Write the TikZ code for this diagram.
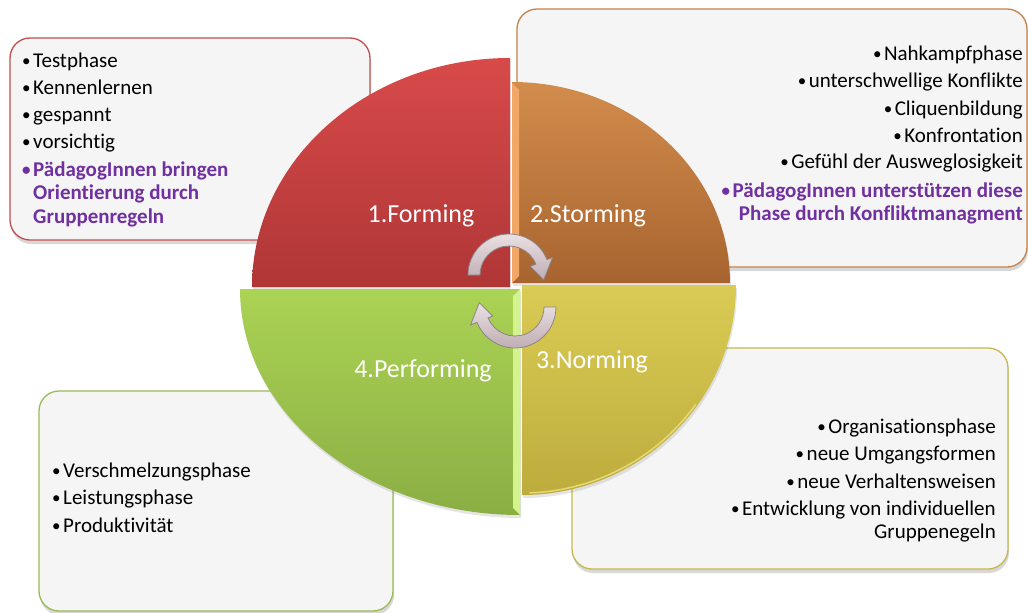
\documentclass[tikz,border=0pt]{standalone}
\usepackage{fontspec}
\setmainfont{Carlito}[Ligatures=NoCommon]
\usetikzlibrary{shadows}
\definecolor{boxfill}{HTML}{F5F5F5}
\definecolor{redb}{HTML}{C0504D}
\definecolor{orangeb}{HTML}{C3834B}
\definecolor{yellowb}{HTML}{C6B84C}
\definecolor{greenb}{HTML}{9BBB59}
\definecolor{purp}{HTML}{7030A0}
\definecolor{redt}{HTML}{D84A4A}
\definecolor{redd}{HTML}{B03636}
\definecolor{orat}{HTML}{D28C4C}
\definecolor{orad}{HTML}{A8642F}
\definecolor{yelt}{HTML}{DACB55}
\definecolor{yeld}{HTML}{BDAC3C}
\definecolor{grnt}{HTML}{ABD354}
\definecolor{grnd}{HTML}{8BAE44}
\definecolor{oralight}{HTML}{F3A766}
\definecolor{grnlight}{HTML}{D3F38C}
\definecolor{yellight}{HTML}{E6D975}
\definecolor{arrowtop}{HTML}{EAE0E3}
\definecolor{arrowbot}{HTML}{BFAEB4}
\definecolor{arrowdraw}{HTML}{8E8488}
\newcommand{\bl}{\makebox[11pt][l]{\raisebox{0.5pt}{\fontsize{17}{17}\selectfont •}}}
\begin{document}
\begin{tikzpicture}[x=1pt,y=-1pt,
  infobox/.style={draw, line width=1.3pt, fill=boxfill, rounded corners=20pt,
    drop shadow={opacity=0.3, shadow xshift=1pt, shadow yshift=-4pt}},
  quad/.style={drop shadow={opacity=0.2, shadow xshift=1pt, shadow yshift=-3pt}},
  itemL/.style={anchor=base west, inner sep=0pt, font=\fontsize{21}{24}\selectfont},
  itemR/.style={anchor=base east, inner sep=0pt, font=\fontsize{21}{24}\selectfont},
  accent/.style={text=purp, font=\fontsize{21}{24}\selectfont\bfseries},
  phase/.style={anchor=base, text=white, inner sep=0pt, font=\fontsize{26}{30}\selectfont},
  cyc/.style={top color=arrowtop, bottom color=arrowbot, draw=arrowdraw, line width=0.8pt}]
\useasboundingbox (0,0) rectangle (1028,613);
\fill[white] (0,0) rectangle (1028,613);

% info boxes
\draw[infobox, draw=redb]    (10,38)  rectangle (370,240);
\draw[infobox, draw=orangeb] (517,9)  rectangle (1027,267);
\draw[infobox, draw=yellowb] (572,348) rectangle (1008,569);
\draw[infobox, draw=greenb]  (39,391) rectangle (393,611);

% quadrants
\shade[quad, top color=redt, bottom color=redd]
  (510,287) -- ++(-258,0) arc[start angle=180, end angle=270, x radius=258, y radius=229] -- cycle;
\shade[quad, top color=orat, bottom color=orad]
  (512,283) -- ++(0,-201) arc[start angle=270, end angle=360, x radius=218, y radius=201] -- cycle;
\fill[oralight] (512,83) -- (519,90) -- (519,276) -- (512,283) -- cycle;
\shade[quad, top color=grnt, bottom color=grnd]
  (520,289) -- ++(0,226) arc[start angle=90, end angle=180, x radius=280, y radius=226] -- cycle;
\fill[grnlight] (520,289) -- (513,296) -- (513,508) -- (520,515) -- cycle;
\shade[quad, top color=yelt, bottom color=yeld]
  (522,285) -- ++(214,0) arc[start angle=0, end angle=90, x radius=214, y radius=210] -- cycle;
\draw[yellight, line width=1.5pt, shift={(522,285)}]
  (35:212 and 208) arc[start angle=35, end angle=88, x radius=212, y radius=208];

% cycle arrows
\shade[cyc, shift={(509,275)}]
  (180:41) arc[start angle=180, end angle=338, radius=41]
  -- (338:47) -- (8:35) -- (338:23) -- (338:29)
  arc[start angle=338, end angle=180, radius=29] -- cycle;
\shade[cyc, shift={(515,307)}]
  (0:41) arc[start angle=0, end angle=158, radius=41]
  -- (158:48) -- (187:36) -- (158:24) -- (158:29)
  arc[start angle=158, end angle=0, radius=29] -- cycle;

% phase labels
\node[phase] (forming)    at (421,222) {1.Forming};
\node[phase] (storming)   at (588,222) {2.Storming};
\node[phase] (norming)    at (592,368) {3.Norming};
\node[phase] (performing) at (423,377) {4.Performing};

% box 1 text
\node[itemL] (f1) at (22,67)  {\bl Testphase};
\node[itemL] (f2) at (22,94)  {\bl Kennenlernen};
\node[itemL] (f3) at (22,121) {\bl gespannt};
\node[itemL] (f4) at (22,148) {\bl vorsichtig};
\node[itemL, accent] (f5) at (22,176) {\bl PädagogInnen bringen};
\node[itemL, accent] (f6) at (33,199) {Orientierung durch};
\node[itemL, accent] (f7) at (33,223) {Gruppenregeln};

% box 2 text
\node[itemR] (s1) at (1023,60)  {\bl Nahkampfphase};
\node[itemR] (s2) at (1023,87)  {\bl unterschwellige Konflikte};
\node[itemR] (s3) at (1023,115) {\bl Cliquenbildung};
\node[itemR] (s4) at (1023,142) {\bl Konfrontation};
\node[itemR] (s5) at (1023,168) {\bl Gefühl der Ausweglosigkeit};
\node[itemR, accent] (s6) at (1023,197) {\bl PädagogInnen unterstützen diese};
\node[itemR, accent] (s7) at (1023,220) {Phase durch Konfliktmanagment};

% box 3 text
\node[itemR] (n1) at (996,433) {\bl Organisationsphase};
\node[itemR] (n2) at (996,460) {\bl neue Umgangsformen};
\node[itemR] (n3) at (996,488) {\bl neue Verhaltensweisen};
\node[itemR] (n4) at (996,515) {\bl Entwicklung von individuellen};
\node[itemR] (n5) at (996,538) {Gruppenegeln};

% box 4 text
\node[itemL] (p1) at (52,477) {\bl Verschmelzungsphase};
\node[itemL] (p2) at (52,504) {\bl Leistungsphase};
\node[itemL] (p3) at (52,532) {\bl Produktivität};
\end{tikzpicture}
\end{document}
